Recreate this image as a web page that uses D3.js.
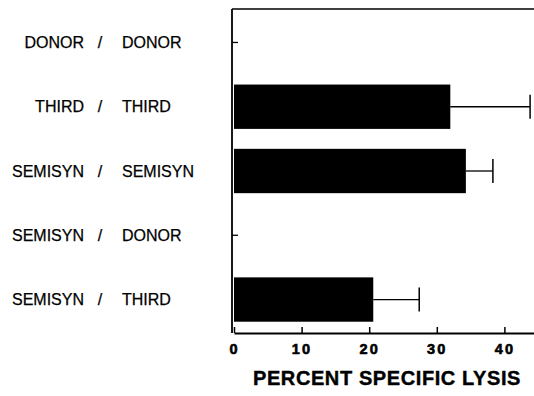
<!DOCTYPE html>
<html><head><meta charset="utf-8">
<script src="https://cdn.jsdelivr.net/npm/d3@7"></script>
<style>body{margin:0;background:#fff}svg{display:block}</style>
</head><body>
<script>
const leftLabels = ["DONOR","THIRD","SEMISYN","SEMISYN","SEMISYN"];
const rightLabels = ["DONOR","THIRD","SEMISYN","DONOR","THIRD"];
const values = [0, 32.0, 34.3, 0, 20.6];
const errors = [0, 11.8, 4.0, 0, 6.8];
const xTicks = [0,10,20,30,40];
const xTitle = "PERCENT SPECIFIC LYSIS";

const W=534,H=396;
const svg=d3.select("body").append("svg").attr("width",W).attr("height",H);
const x0=234, yTop=9, yBottom=333;
const x=d3.scaleLinear().domain([0,45]).range([x0,x0+45*6.76]);
const cats=d3.range(values.length);
const y=d3.scaleBand().domain(cats).range([10,332]).paddingInner(0.31).paddingOuter(0.16);
const font="'Liberation Sans', Arial, Helvetica, sans-serif";

// frame lines
svg.append("line").attr("x1",x0-2).attr("x2",W).attr("y1",yTop).attr("y2",yTop).attr("stroke","#000").attr("stroke-width",1.5);
svg.append("line").attr("x1",x0-2).attr("x2",x0-2).attr("y1",yTop).attr("y2",yBottom).attr("stroke","#000").attr("stroke-width",1.8);

// x axis
const ax=svg.append("g").attr("transform",`translate(0,${yBottom})`)
  .call(d3.axisBottom(x).tickValues(xTicks).tickSize(-6).tickSizeOuter(0).tickFormat(d3.format("d")));
ax.select(".domain").attr("stroke-width",1.8);
ax.selectAll(".tick line").attr("stroke-width",1.5);
ax.selectAll(".tick text").attr("y",11).attr("dy","0.71em").attr("font-family",font)
  .attr("font-weight","bold").attr("font-size",14.5).attr("letter-spacing",2.2)
  .attr("stroke","#000").attr("stroke-width",0.6).attr("fill","#000");

// bars
svg.selectAll("rect.bar").data(cats.filter(i=>values[i]>0)).enter().append("rect")
  .attr("x",x0).attr("y",i=>y(i)).attr("height",y.bandwidth())
  .attr("width",i=>x(values[i])-x0).attr("fill","#000");

// error bars
cats.filter(i=>values[i]>0).forEach(i=>{
  const cy=y(i)+y.bandwidth()/2;
  svg.append("line").attr("x1",x(values[i])).attr("x2",x(values[i]+errors[i])).attr("y1",cy).attr("y2",cy).attr("stroke","#000").attr("stroke-width",1.3);
  svg.append("line").attr("x1",x(values[i]+errors[i])).attr("x2",x(values[i]+errors[i])).attr("y1",cy-12).attr("y2",cy+12).attr("stroke","#000").attr("stroke-width",1.5);
});
// zero markers
cats.filter(i=>values[i]===0).forEach(i=>{
  const cy=y(i)+y.bandwidth()/2;
  svg.append("line").attr("x1",x0-2).attr("x2",x0+4).attr("y1",cy).attr("y2",cy).attr("stroke","#000").attr("stroke-width",1.3);
});

// category labels
const lab=svg.append("g").attr("font-family",font).attr("font-size",16).attr("fill","#000")
  .attr("stroke","#000").attr("stroke-width",0.25);
cats.forEach(i=>{
  const cy=y(i)+y.bandwidth()/2;
  lab.append("text").attr("x",84).attr("y",cy).attr("dy","0.36em").attr("text-anchor","end").text(leftLabels[i]);
  lab.append("text").attr("x",100).attr("y",cy).attr("dy","0.36em").attr("text-anchor","middle").text("/");
  lab.append("text").attr("x",122).attr("y",cy).attr("dy","0.36em").attr("text-anchor","start").text(rightLabels[i]);
});

svg.append("text").attr("x",387).attr("y",378).attr("dy","0.36em").attr("text-anchor","middle")
  .attr("font-family",font).attr("font-weight","bold").attr("font-size",20).attr("letter-spacing",0.6)
  .attr("stroke","#000").attr("stroke-width",0.4).text(xTitle);
</script>
</body></html>
